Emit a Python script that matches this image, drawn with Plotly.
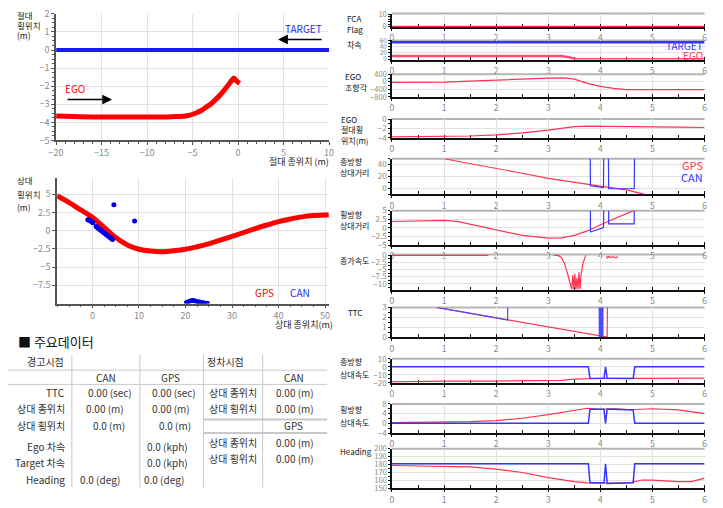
import plotly.graph_objects as go

W, H = 723, 508
FONT = "Noto Sans CJK KR"
RED = "#ff0000"
BLUE = "#1a1aff"
RRED = "#ff3350"
RBLUE = "#3535ff"
TICKC = "#8a8a8a"
GRID = "#e2e2e2"


def px(x):
    return x / W


def py(y):
    return 1 - y / H


# ---------------- data: absolute position (top-left) ----------------
ego_abs_x = [-20, -18, -16, -14, -12, -10, -8, -7, -6, -5.5, -5, -4.5, -4, -3.5, -3,
             -2.5, -2, -1.5, -1, -0.7, -0.47, -0.2, 0.17]
ego_abs_y = [-3.65, -3.68, -3.7, -3.7, -3.7, -3.7, -3.7, -3.68, -3.66, -3.62, -3.55, -3.45,
             -3.33, -3.15, -2.98, -2.75, -2.5, -2.2, -1.88, -1.68, -1.54, -1.7, -1.84]
target_abs_x = [-20, -15, -10, -5, 0, 5, 10]
target_abs_y = [0, 0, 0, 0, 0, 0, 0]

# ---------------- data: relative position (middle-left) ----------------
gps_rel_x = [-7.6, -5, -2.5, 0, 2.5, 5, 7.5, 10, 12.5, 15, 17.5, 20, 22.5, 25, 27.5, 30,
             32.5, 35, 37.5, 40, 42.5, 45, 47.5, 50, 50.8]
gps_rel_y = [4.8, 3.85, 2.85, 1.85, 0.45, -0.95, -1.95, -2.55, -2.8, -2.88, -2.75, -2.55,
             -2.2, -1.8, -1.3, -0.78, -0.25, 0.28, 0.78, 1.25, 1.6, 1.9, 2.08, 2.15, 2.2]
can_rel_x = [-1.0, -0.8, -0.6, -0.4, -0.2, 0.0, 0.1, 0.8, 1.0, 1.3, 1.5, 1.8, 2.0, 2.3, 2.5,
             2.8, 3.0, 3.3, 3.5, 3.8, 4.0, 4.3, 4.6, 9.05, 20.2, 20.6, 21.0, 21.4, 21.8,
             22.2, 22.6, 23.0, 23.4, 23.8, 24.2, 24.7]
can_rel_y = [1.5, 1.45, 1.4, 1.33, 1.25, 1.15, 1.1, 0.57, 0.47, 0.3, 0.2, 0.05, -0.05, -0.2,
             -0.3, -0.45, -0.55, -0.7, -0.8, -0.95, -1.05, -1.2, 3.55, 1.34, -9.85, -9.75,
             -9.65, -9.6, -9.6, -9.7, -9.75, -9.8, -9.85, -9.9, -9.95, -9.95]

# ---------------- data: time series (right column) ----------------
fca_t = [0, 6]
fca_v = [0, 0]

spd_t = [0, 1, 2, 3, 3.25, 3.4, 3.55, 4, 5, 6]
ego_spd = [10, 9.5, 9.5, 10, 10, 6, 0, 0, 0, 0]
tgt_spd_t = [0, 2, 4, 6]
tgt_spd = [54, 54, 54, 54]

steer_t = [0, 0.5, 1, 1.5, 2, 2.5, 3, 3.3, 3.5, 3.75, 4, 4.25, 4.5, 5, 6]
steer_v = [-35, -30, -15, 40, 100, 150, 190, 205, 140, -80, -240, -350, -410, -415, -415]

abs_t = [0, 0.5, 1, 1.5, 2, 2.5, 3, 3.25, 3.5, 3.75, 4, 4.5, 5, 5.5, 6]
abs_lat = [-3.8, -3.78, -3.75, -3.6, -3.35, -2.95, -2.35, -1.95, -1.6, -1.52, -1.52, -1.58,
           -1.65, -1.72, -1.8]

lon_t = [1.0, 1.5, 2, 2.5, 3, 3.5, 4, 4.5, 4.85]
lon_gps = [50, 42, 34.5, 25.5, 17, 10, 4, -2.5, -10]
lon_can_t = [3.8, 3.81, 4.06, 4.07, 4.15, 4.16, 4.65, 4.66]
lon_can = [100, 4.4, 1.6, 100, 100, -0.5, -0.5, 100]

lat_t = [0, 0.5, 1, 1.25, 1.5, 2, 2.5, 3, 3.25, 3.5, 3.75, 4, 4.25, 4.5, 4.68]
lat_gps = [1.85, 2.0, 2.2, 1.9, 1.1, -0.6, -2.2, -3.0, -2.9, -2.2, -0.9, 0.9, 2.5, 4.0, 5.3]
lat_can_t = [3.8, 3.81, 4.06, 4.07, 4.15, 4.16, 4.65, 4.66]
lat_can = [100, -1.2, 0.1, 100, 100, 1.15, 1.15, 100]

acc_t = [0, 0.5, 1, 1.5, 1.85, 1.86, 3.1, 3.2, 3.25, 3.31, 3.37, 3.42, 3.45, 3.47, 3.49,
         3.51, 3.53, 3.55, 3.57, 3.59, 3.61, 3.63, 3.66, 3.72, 3.73, 4.12, 4.14, 4.16, 4.2,
         4.25, 4.3, 4.33]
acc_v = [-0.1, -0.1, -0.1, -0.1, -0.1, None, 0, -0.2, -0.8, -2.8, -6.4, -10, -12, -7, -12,
         -6.5, -12, -8, -12, -6, -12, -7, -3.3, 0, None, -0.3, -1.2, -0.5, -0.8, -0.6, -1.0,
         -0.5]

ttc_t = [0.86, 1.0, 1.5, 2.0, 2.5, 3.0, 3.5, 4.0, 4.13, 4.14]
ttc_gps = [3.0, 2.87, 2.4, 1.93, 1.45, 0.97, 0.52, 0.05, 0.0, 5]
ttc_can_t = [0.86, 1.5, 2.0, 2.22, 2.23, 3.975, 3.98, 3.985, 3.99, 3.995, 4.0, 4.005, 4.01,
             4.015, 4.02, 4.025, 4.03, 4.035, 4.04, 4.045, 4.05]
ttc_can = [3.0, 2.4, 1.93, 1.72, 10, 10, 0, 10, 0, 10, 0, 10, 0, 10, 0, 10, 0, 10, 0, 10, 0]

rvx_t = [0, 0.5, 1, 2, 3, 3.25, 3.5, 3.75, 4, 4.5, 5, 5.5, 6]
rvx_gps = [-18.7, -18.2, -17.8, -17.8, -17.5, -17, -15.4, -14.5, -14.3, -14.5, -14.6, -14.5,
           -14.2]
rvx_can_t = [0, 3.77, 3.8, 4.07, 4.1, 4.13, 4.63, 4.66, 6]
rvx_can = [0, 0, -14.5, -14.3, 0, -14.4, -14.5, 0, 0]

rvy_t = [0, 0.5, 1, 1.5, 2, 2.5, 3, 3.5, 3.75, 4, 4.3, 4.6, 5, 5.5, 6]
rvy_gps = [0.3, 0.35, 0.45, 0.7, 1.1, 2.1, 3.6, 5.3, 6.2, 5.8, 6.0, 5.6, 6.0, 5.5, 4.0]
rvy_can_t = [0, 3.77, 3.8, 4.07, 4.1, 4.13, 4.63, 4.66, 6]
rvy_can = [0, 0, 5.8, 5.8, 0, 5.9, 5.5, 0, 0]

hd_t = [0, 0.5, 1, 1.5, 2, 2.5, 3, 3.5, 3.75, 4, 4.3, 4.6, 4.8, 5, 5.25, 5.5, 5.75, 6]
hd_gps = [178.8, 178.5, 178, 177, 174.2, 170, 163.5, 158.4, 157, 157, 156.5, 157.5, 160.5,
          160.5, 159.5, 158.5, 158.5, 163]
hd_can_t = [0, 3.77, 3.8, 4.07, 4.1, 4.13, 4.63, 4.66, 6]
hd_can = [181, 181, 157, 157, 181, 156, 157, 181, 181]

# ---------------- table text ----------------
tbl_rows = [
    ("경고시점", 38, 364, "center"), ("정차시점", 202, 364, "left"),
    ("CAN", 100, 380.5, "center"), ("GPS", 165, 380.5, "center"), ("CAN", 291, 380.5, "center"),
    ("TTC", 59, 396, "right"), ("0.00 (sec)", 104, 396, "center"), ("0.00 (sec)", 169, 396, "center"),
    ("상대 종위치", 204, 396, "left"), ("0.00 (m)", 292, 396, "center"),
    ("상대 종위치", 59, 412, "right"), ("0.00 (m)", 99, 412, "center"), ("0.00 (m)", 166, 412, "center"),
    ("상대 횡위치", 204, 412, "left"), ("0.00 (m)", 292, 412, "center"),
    ("상대 횡위치", 59, 429, "right"), ("0.0 (m)", 103, 429, "center"), ("0.0 (m)", 170, 429, "center"),
    ("GPS", 291, 429, "center"),
    ("Ego 차속", 59, 451, "right"), ("0.0 (kph)", 162, 451, "center"),
    ("상대 종위치", 204, 447, "left"), ("0.00 (m)", 292, 447, "center"),
    ("Target 차속", 59, 467, "right"), ("0.0 (kph)", 162, 467, "center"),
    ("상대 횡위치", 204, 463, "left"), ("0.00 (m)", 292, 463, "center"),
    ("Heading", 59, 485, "right"), ("0.0 (deg)", 94, 485, "center"), ("0.0 (deg)", 159, 485, "center"),
]

fig = go.Figure()

# top-left
fig.add_trace(go.Scatter(x=target_abs_x, y=target_abs_y, mode="lines",
                         line=dict(color=BLUE, width=4), xaxis="x", yaxis="y"))
fig.add_trace(go.Scatter(x=ego_abs_x, y=ego_abs_y, mode="lines",
                         line=dict(color=RED, width=5, shape="spline"), xaxis="x", yaxis="y"))
# middle-left
fig.add_trace(go.Scatter(x=gps_rel_x, y=gps_rel_y, mode="lines",
                         line=dict(color=RED, width=5, shape="spline"), xaxis="x2", yaxis="y2"))
fig.add_trace(go.Scatter(x=can_rel_x, y=can_rel_y, mode="markers",
                         marker=dict(color="#0000ee", size=5), xaxis="x2", yaxis="y2"))

# right column panels: (top px, bottom px, range, dtick, tick0, minor, tick font size)
panels = [
    (6.7, 20.7, [-0.4, 10.4], 10, 0, 2, 7.5),
    (34.3, 54, [-1.5, 60], 20, 0, 10, 6.5),
    (69, 92.3, [-800, 400], 400, 0, 200, 7.5),
    (115, 134.3, [-4, 0], 2, 0, 1, 8),
    (155.7, 192.3, [-10, 50], 20, 0, 10, 8),
    (209, 244.3, [-5, 5], 2.5, 0, 1.25, 8),
    (254, 290, [-12, 0.2], 2.5, 0, 1.25, 8),
    (308.3, 339, [-0.03, 3], 1, 0, 0.5, 8),
    (361, 385.7, [-20, 10], 10, 0, 5, 8),
    (407.3, 437.3, [-4, 8], 4, 0, 2, 8),
    (453.3, 494, [150, 200], 10, 0, 5, 7.5),
]

series = [
    [(fca_t, fca_v, RRED, 2)],
    [(tgt_spd_t, tgt_spd, RBLUE, 2.5), (spd_t, ego_spd, "#ff5070", 2.5)],
    [(steer_t, steer_v, RRED, 1.2)],
    [(abs_t, abs_lat, RRED, 1.2)],
    [(lon_t, lon_gps, RRED, 1.2), (lon_can_t, lon_can, RBLUE, 1.2)],
    [(lat_t, lat_gps, RRED, 1.2), (lat_can_t, lat_can, RBLUE, 1.2)],
    [(acc_t, acc_v, RRED, 1.2)],
    [(ttc_t, ttc_gps, RRED, 1.2), (ttc_can_t, ttc_can, "#4a4aff", 1.2)],
    [(rvx_t, rvx_gps, RRED, 1.2), (rvx_can_t, rvx_can, RBLUE, 1.5)],
    [(rvy_t, rvy_gps, RRED, 1.2), (rvy_can_t, rvy_can, RBLUE, 1.5)],
    [(hd_t, hd_gps, RRED, 1.2), (hd_can_t, hd_can, RBLUE, 1.5)],
]

layout_axes = {}
shapes = []
for k, (top, bot, yr, dt, t0, mn, fs) in enumerate(panels):
    i = k + 3
    for (xs, ys, col, w) in series[k]:
        fig.add_trace(go.Scatter(x=xs, y=ys, mode="lines", line=dict(color=col, width=w),
                                 connectgaps=False, xaxis=f"x{i}", yaxis=f"y{i}"))
    layout_axes[f"xaxis{i}"] = dict(
        domain=[px(391), px(709.3)], anchor=f"y{i}", range=[0, 6], tick0=0, dtick=1,
        showgrid=True, gridcolor=GRID, gridwidth=1, zeroline=False,
        showline=True, linecolor="#111", linewidth=2, ticks="outside", ticklen=2,
        tickcolor="#111", tickfont=dict(size=8.5, color=TICKC, family=FONT),
        minor=dict(dtick=0.5, ticks="inside", ticklen=3, tickcolor="#111", showgrid=False),
        layer="below traces", fixedrange=True)
    layout_axes[f"yaxis{i}"] = dict(
        domain=[py(bot), py(top)], anchor=f"x{i}", range=yr, tick0=t0, dtick=dt,
        showgrid=True, gridcolor=GRID, gridwidth=1, zeroline=False,
        showline=True, linecolor="#111", linewidth=1.5, ticks="outside", ticklen=2,
        tickcolor="#111", tickfont=dict(size=fs, color=TICKC, family=FONT),
        minor=dict(dtick=mn, ticks="outside", ticklen=2, tickcolor="#111", showgrid=False),
        fixedrange=True)
    shapes.append(dict(type="line", xref=f"x{i} domain", yref=f"y{i} domain",
                       x0=0, x1=1, y0=1, y1=1, line=dict(color="#b5b5b5", width=2), layer="below"))

# table lines
for xv in [65, 134.3, 199, 259.3]:
    shapes.append(dict(type="line", xref="paper", yref="paper", x0=px(xv), x1=px(xv),
                       y0=py(357), y1=py(493), line=dict(color="#c8c8c8", width=1)))
for (yv, xa, xb, w) in [(372.7, 0, 325, 1), (387.3, 0, 325, 1), (423.3, 199, 325, 2), (437.3, 199, 325, 2)]:
    shapes.append(dict(type="line", xref="paper", yref="paper", x0=px(xa), x1=px(xb),
                       y0=py(yv), y1=py(yv), line=dict(color="#c8c8c8", width=w)))

ann = []


def txt(s, x, y, anchor="left", size=10, color="#222", yanchor="middle"):
    ann.append(dict(text=s, x=px(x), y=py(y), xref="paper", yref="paper", showarrow=False,
                    xanchor=anchor, yanchor=yanchor, borderpad=0,
                    font=dict(size=size, color=color, family=FONT)))


# left axis labels
for s, y in [("절대", 8.5), ("횡위치", 18.5), ("(m)", 29)]:
    txt(s, 8, y, size=8.5)
txt("절대 종위치 (m)", 328, 158.5, anchor="right", size=9)
for s, y in [("상대", 178), ("횡위치", 191.5), ("(m)", 205)]:
    txt(s, 8, y, size=8.5)
txt("상대 종위치(m)", 332, 325.5, anchor="right", size=9)

txt("TARGET", 281, 22.5, size=10, color="#2233dd")
txt("EGO", 57, 83.5, size=10, color=RED)
ann.append(dict(x=px(275), y=py(33.3), ax=45, ay=0, xref="paper", yref="paper", axref="pixel",
                ayref="pixel", showarrow=True, arrowhead=2, arrowsize=1.4, arrowwidth=1.4,
                arrowcolor="#000", text=""))
ann.append(dict(x=px(106), y=py(95), ax=-46, ay=0, xref="paper", yref="paper", axref="pixel",
                ayref="pixel", showarrow=True, arrowhead=2, arrowsize=1.4, arrowwidth=1.4,
                arrowcolor="#000", text=""))
txt("GPS", 261, 292.5, anchor="center", size=10, color=RED)
txt("CAN", 297, 292.5, anchor="center", size=10, color="#2233dd")

# right labels
right_labels = [
    (["FCA", "Flag"], 344, [12.3, 23.3]),
    (["차속"], 344, [38.3]),
    (["EGO", "조향각"], 342, [71, 82.7]),
    (["EGO", "절대횡", "위치(m)"], 338, [115, 126, 136.7]),
    (["종방향", "상대거리"], 337, [158.3, 170]),
    (["횡방향", "상대거리"], 337, [213.3, 224.5]),
    (["종가속도"], 337, [260]),
    (["TTC"], 345, [313.3]),
    (["종방향", "상대속도"], 337, [364, 377.3]),
    (["횡방향", "상대속도"], 337, [412.7, 426.7]),
    (["Heading"], 337, [456]),
]
for lines, x, ys in right_labels:
    for s, y in zip(lines, ys):
        txt(s, x, y, size=8, color="#111")

txt("TARGET", 709, 40, anchor="right", size=10, color=RBLUE)
txt("EGO", 709, 49.5, anchor="right", size=10, color=RRED)
txt("GPS", 709, 162, anchor="right", size=11, color=RRED)
txt("CAN", 709, 174.5, anchor="right", size=11, color=RBLUE)

# table
txt("■ 주요데이터", 9, 343, size=13, color="#111")
for s, x, y, a in tbl_rows:
    txt(s, x, y, anchor=a, size=10, color="#333")

fig.update_layout(
    width=W, height=H, margin=dict(l=0, r=0, t=0, b=0),
    paper_bgcolor="white", plot_bgcolor="white", showlegend=False,
    font=dict(family=FONT, size=10, color="#333"),
    xaxis=dict(domain=[px(49), px(327)], anchor="y", range=[-20, 10], dtick=5,
               showgrid=True, gridcolor=GRID, zeroline=False, showline=True, linecolor="#555",
               linewidth=1.5, ticks="outside", ticklen=3, tickcolor="#555",
               tickfont=dict(size=9, color=TICKC),
               minor=dict(dtick=1, ticks="outside", ticklen=2, tickcolor="#555", showgrid=False)),
    yaxis=dict(domain=[py(137), py(7)], anchor="x", range=[-5, 2], dtick=1,
               showgrid=True, gridcolor=GRID, zeroline=False, showline=True, linecolor="#555",
               linewidth=1.5, ticks="outside", ticklen=3, tickcolor="#555",
               tickfont=dict(size=9, color=TICKC),
               minor=dict(dtick=0.25, ticks="outside", ticklen=2, tickcolor="#555", showgrid=False)),
    xaxis2=dict(domain=[px(50), px(326.7)], anchor="y2", range=[-7.6, 50.8], tick0=0, dtick=10,
                showgrid=True, gridcolor=GRID, zeroline=False, showline=True, linecolor="#555",
                linewidth=1.5, ticks="outside", ticklen=3, tickcolor="#555",
                tickfont=dict(size=9, color=TICKC),
                minor=dict(dtick=2.5, ticks="outside", ticklen=2, tickcolor="#555", showgrid=False)),
    yaxis2=dict(domain=[py(304.3), py(175)], anchor="x2", range=[-10, 7.3],
                tickvals=[-7.5, -5, -2.5, 0, 2.5, 5],
                showgrid=True, gridcolor=GRID, zeroline=False, showline=True, linecolor="#555",
                linewidth=1.5, ticks="outside", ticklen=3, tickcolor="#555",
                tickfont=dict(size=9, color=TICKC)),
    shapes=shapes, annotations=ann,
    **layout_axes,
)

fig.write_html("out.html")
